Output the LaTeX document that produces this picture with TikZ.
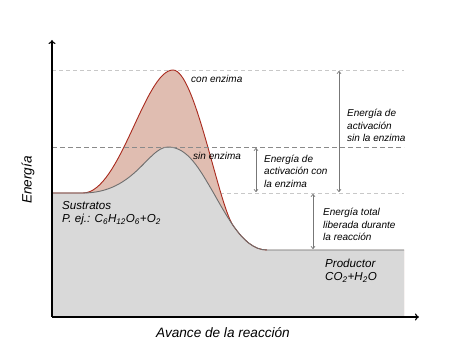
\documentclass[tikz,border=0pt]{standalone}
\usepackage{fontspec}
\setmainfont{Liberation Sans}
\usetikzlibrary{arrows.meta}
\definecolor{redfill}{HTML}{E0BDB1}
\definecolor{redline}{HTML}{A92A1E}
\definecolor{greyfill}{HTML}{D9D9D9}
\definecolor{greyline}{HTML}{6E6E6E}
\definecolor{lightdash}{HTML}{C8C8C8}
\definecolor{darkdash}{HTML}{8A8A8A}
\definecolor{dimcol}{HTML}{777777}
\tikzset{
  axisline/.style={draw=black, line width=1.1pt, -{To[length=4pt,width=7pt]}},
  lightline/.style={draw=lightdash, line width=0.8pt, dash pattern=on 4pt off 3pt},
  darkline/.style={draw=darkdash, line width=0.8pt, dash pattern=on 5pt off 3pt},
  dimarrow/.style={draw=dimcol, line width=0.7pt, {To[length=3pt,width=4.5pt]}-{To[length=3pt,width=4.5pt]}},
  smalltxt/.style={inner sep=0pt, anchor=west, align=left, font=\fontsize{10}{12.4}\selectfont\itshape},
  bigtxt/.style={inner sep=0pt, anchor=west, align=left, font=\fontsize{11.6}{13.2}\selectfont\itshape},
  axistxt/.style={inner sep=0pt, font=\fontsize{13.6}{15}\selectfont\itshape}
}
\begin{document}
\begin{tikzpicture}[x=1pt,y=-1pt]
\useasboundingbox (0,0) rectangle (451,363);
% key coordinates
\coordinate (origin) at (52,317);
\coordinate (ytop) at (52,40);
\coordinate (xend) at (419,317);
\coordinate (topL) at (52,70);
\coordinate (topR) at (404,70);
\coordinate (midL) at (52,147);
\coordinate (midR) at (404,147);
\coordinate (subL) at (52,193);
\coordinate (subR) at (404,193);
% dashed levels behind fills
\draw[lightline] (topL) -- (topR);
\draw[lightline] (subL) -- (subR);
% red fill
\fill[redfill] (52,193) -- (83,193)
  .. controls (120,193) and (145,70) .. (173,70)
  .. controls (195,70) and (218,203) .. (233.02,225.37)
  .. controls (243.12,239.92) and (253.8,250) .. (267,250)
  -- (404,250) -- (404,317) -- (52,317) -- cycle;
% grey fill
\fill[greyfill] (52,193) -- (83,193)
  .. controls (135,193) and (148,147) .. (168,147)
  .. controls (188,147) and (200,170) .. (213,192)
  .. controls (219.8,204) and (226.28,215.68) .. (233.02,225.37)
  .. controls (243.12,239.92) and (253.8,250) .. (267,250)
  -- (404,250) -- (404,317) -- (52,317) -- cycle;
% red curve
\draw[redline, line width=0.9pt] (52,193) -- (83,193)
  .. controls (120,193) and (145,70) .. (173,70)
  .. controls (195,70) and (218,203) .. (233.02,225.37)
  .. controls (243.12,239.92) and (253.8,250) .. (267,250);
% grey curve
\draw[greyline, line width=0.9pt] (52,193) -- (83,193)
  .. controls (135,193) and (148,147) .. (168,147)
  .. controls (188,147) and (200,170) .. (213,192)
  .. controls (219.8,204) and (226.28,215.68) .. (233.02,225.37)
  .. controls (243.12,239.92) and (253.8,250) .. (267,250)
  -- (404,250);
% middle dashed line on top
\draw[darkline] (midL) -- (midR);
% axes
\draw[axisline] (origin) -- (ytop);
\draw[axisline] (origin) -- (xend);
% dimension arrows
\coordinate (a1t) at (339,71);
\coordinate (a1b) at (339,192);
\coordinate (a2t) at (256,148);
\coordinate (a2b) at (256,192);
\coordinate (a3t) at (313,194);
\coordinate (a3b) at (313,249);
\draw[dimarrow] (a1t) -- (a1b);
\draw[dimarrow] (a2t) -- (a2b);
\draw[dimarrow] (a3t) -- (a3b);
% labels
\node[smalltxt] (con) at (191,79) {con enzima};
\node[smalltxt] (sin) at (193,156) {sin enzima};
\node[smalltxt] (eas) at (347,125.5) {Energía de\\activación\\sin la enzima};
\node[smalltxt] (eac) at (264,171) {Energía de\\activación con\\la enzima};
\node[smalltxt] (etl) at (323,224.5) {Energía total\\liberada durante\\la reacción};
\node[bigtxt] (sus) at (62,213.5) {Sustratos\\P. ej.: C\textsubscript{6}H\textsubscript{12}O\textsubscript{6}+O\textsubscript{2}};
\node[bigtxt] (prod) at (325,270.5) {Productor\\CO\textsubscript{2}+H\textsubscript{2}O};
\node[axistxt] (xlab) at (223,333) {Avance de la reacción};
\node[axistxt, rotate=90] (ylab) at (28,180) {Energía};
\end{tikzpicture}
\end{document}
